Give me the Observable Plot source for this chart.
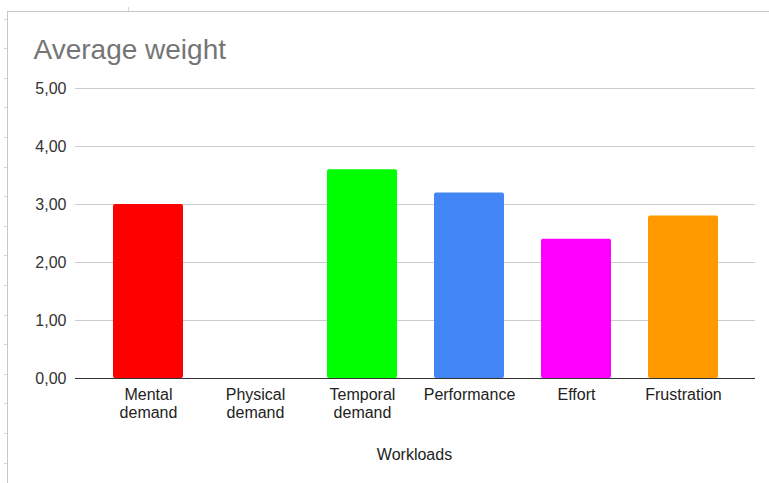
<!DOCTYPE html>
<html>
<head>
<meta charset="utf-8">
<script src="https://cdn.jsdelivr.net/npm/d3@7"></script>
<script src="https://cdn.jsdelivr.net/npm/@observablehq/plot@0.6"></script>
<style>
  html, body { margin: 0; padding: 0; background: #fff; }
  #wrap { position: relative; width: 769px; height: 483px; overflow: hidden; background: #fff; }
  #frame-left { position: absolute; left: 7px; top: 11px; width: 1px; height: 472px; background: #c8c8c8; }
  #frame-top { position: absolute; left: 7px; top: 11px; width: 762px; height: 1px; background: #c8c8c8; }
  #row-ticks { position: absolute; left: 4px; top: 4px; width: 3px; height: 479px;
    background: repeating-linear-gradient(to bottom, transparent 0, transparent 14.5px, #d6d6d6 14.5px, #d6d6d6 15.5px, transparent 15.5px, transparent 29.6px); }
  #col-tick { position: absolute; left: 128px; top: 7px; width: 1px; height: 4px; background: #d6d6d6; }
  #chart { position: absolute; left: 0; top: 0; }
</style>
</head>
<body>
<div id="wrap">
  <div id="row-ticks"></div>
  <div id="col-tick"></div>
  <div id="frame-left"></div>
  <div id="frame-top"></div>
  <div id="chart"></div>
</div>
<script>
// Workload categories and their average weights
const categories = ["Mental demand", "Physical demand", "Temporal demand", "Performance", "Effort", "Frustration"];
const tickLabels = ["Mental\ndemand", "Physical\ndemand", "Temporal\ndemand", "Performance", "Effort", "Frustration"];
const values = [3.0, 0, 3.6, 3.2, 2.4, 2.8];
const colors = ["#ff0000", "#ff00ff", "#00ff00", "#4285f4", "#ff00ff", "#ff9900"];
const yTicks = [0, 1, 2, 3, 4, 5];

const title = "Average weight";
const xTitle = "Workloads";

const data = categories.map((name, i) => ({name, value: values[i], color: colors[i]}));
const fmt = d => d.toFixed(2).replace(".", ",");
const labelOf = name => tickLabels[categories.indexOf(name)];

const chart = Plot.plot({
  width: 769,
  height: 483,
  marginTop: 88,
  marginBottom: 105,
  marginLeft: 75,
  marginRight: 14,
  style: {
    fontFamily: "'Liberation Sans', Arial, sans-serif",
    fontSize: "16px",
    background: "transparent",
    overflow: "visible"
  },
  x: {domain: categories, padding: 0.35, label: null},
  y: {domain: [0, 5], label: null},
  color: {type: "identity"},
  marks: [
    Plot.ruleY(yTicks.filter(v => v > 0), {stroke: "#cccccc", strokeWidth: 1}),
    Plot.barY(data, {x: "name", y: "value", fill: "color", rx: 2}),
    Plot.ruleY([0], {stroke: "#333333", strokeWidth: 1.2}),
    Plot.axisY({
      ticks: yTicks,
      tickFormat: fmt,
      tickSize: 0,
      tickPadding: 9,
      label: null,
      fill: "#333333",
      fontSize: 16
    }),
    Plot.axisX({
      tickSize: 0,
      tickPadding: 9,
      tickFormat: labelOf,
      label: null,
      fill: "#222222",
      fontSize: 16,
      lineHeight: 1.1
    }),
    Plot.text([title], {
      frameAnchor: "top-left",
      dx: -42,
      dy: -30,
      textAnchor: "start",
      lineAnchor: "bottom",
      fontSize: 28,
      fill: "#757575"
    }),
    Plot.text([xTitle], {
      frameAnchor: "bottom",
      dy: 81,
      dx: -1,
      lineAnchor: "bottom",
      fontSize: 16,
      fill: "#222222"
    })
  ]
});

document.getElementById("chart").appendChild(chart);
</script>
</body>
</html>
